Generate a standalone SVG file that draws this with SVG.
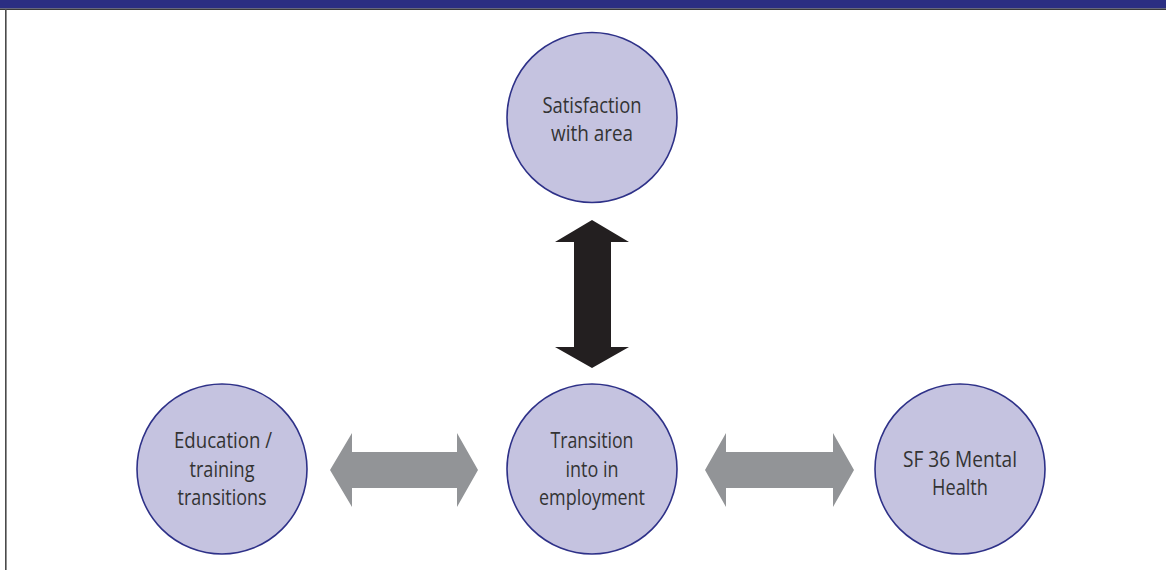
<svg xmlns="http://www.w3.org/2000/svg" width="1166" height="570" viewBox="0 0 1166 570">
  <style>
    .node circle { fill: #c5c3e0; stroke: #2e3188; stroke-width: 1.6; }
    .node text { font-family: "Open Sans", "Noto Sans", sans-serif; font-size: 21px; fill: #333333; text-anchor: middle; }
    .grey { fill: #929497; }
    .black { fill: #231f20; }
  </style>
  <rect x="0" y="0" width="1166" height="570" fill="#ffffff"/>
  <!-- header band and frame -->
  <rect x="0" y="0" width="1166" height="8.5" fill="#2b2e82"/>
  <rect x="0" y="8.5" width="1166" height="1.5" fill="#3a3a3a"/>
  <rect x="5" y="9" width="1.6" height="561" fill="#4a4a4a"/>

  <g id="connectors">
    <!-- vertical double arrow -->
    <polygon class="black" points="592,220 629,242 611,242 611,347 629,347 592,368 555,347 574,347 574,242 555,242"/>
    <!-- left horizontal double arrow -->
    <polygon class="grey" points="330,470 352,433 352,452 457,452 457,433 478,470 457,507 457,488 352,488 352,507"/>
    <!-- right horizontal double arrow -->
    <polygon class="grey" points="705,470 726,433 726,452 833,452 833,433 854,470 833,507 833,488 726,488 726,507"/>
  </g>

  <g id="satisfaction" class="node">
    <circle cx="592" cy="117.5" r="85"/>
    <text x="592" y="113" textLength="99" lengthAdjust="spacingAndGlyphs">Satisfaction</text>
    <text x="592" y="141" textLength="82" lengthAdjust="spacingAndGlyphs">with area</text>
  </g>

  <g id="education" class="node">
    <circle cx="222" cy="469" r="85"/>
    <text x="223" y="448" textLength="98" lengthAdjust="spacingAndGlyphs">Education /</text>
    <text x="222" y="477" textLength="65" lengthAdjust="spacingAndGlyphs">training</text>
    <text x="222" y="505" textLength="89" lengthAdjust="spacingAndGlyphs">transitions</text>
  </g>

  <g id="transition" class="node">
    <circle cx="592" cy="469" r="85"/>
    <text x="592" y="448" textLength="83" lengthAdjust="spacingAndGlyphs">Transition</text>
    <text x="592" y="477" textLength="53" lengthAdjust="spacingAndGlyphs">into in</text>
    <text x="592" y="505" textLength="106" lengthAdjust="spacingAndGlyphs">employment</text>
  </g>

  <g id="mental-health" class="node">
    <circle cx="960" cy="469" r="85"/>
    <text x="960" y="467" textLength="114" lengthAdjust="spacingAndGlyphs">SF 36 Mental</text>
    <text x="960" y="495" textLength="56" lengthAdjust="spacingAndGlyphs">Health</text>
  </g>
</svg>
